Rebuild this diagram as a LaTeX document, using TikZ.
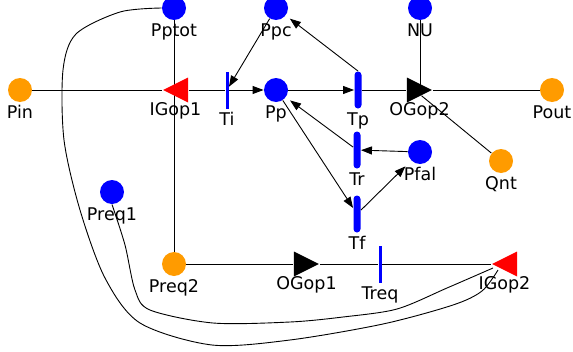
\documentclass[tikz,border=0pt]{standalone}
\usepackage{fontspec}
\setmainfont{DejaVu Sans}
\usetikzlibrary{arrows.meta,shapes.geometric,backgrounds}
\definecolor{placeorange}{RGB}{255,155,0}

\begin{document}
\begin{tikzpicture}%
    [x=1pt, y=-1pt,
    >={Triangle[length=11pt,width=8pt]},
    line width=0.9pt,
    every label/.style={inner sep=0pt, text height=13pt, text depth=4pt,
      font=\fontsize{17.5}{20}\selectfont},
    label distance=3pt,
    place/.style={circle, minimum size=24pt, inner sep=0pt},
    blueplace/.style={place, fill=blue},
    orangeplace/.style={place, fill=placeorange},
    thinbar/.style={rectangle, fill=blue, minimum width=3pt, minimum height=37pt, inner sep=0pt},
    thickbar/.style={rectangle, rounded corners=3.5pt, fill=blue, minimum width=7pt, minimum height=37pt, inner sep=0pt},
    gate/.style={isosceles triangle, isosceles triangle stretches, minimum width=25pt, minimum height=25pt, inner sep=0pt, anchor=apex},
    ingate/.style={gate, fill=red, shape border rotate=180},
    outgate/.style={gate, fill=black}
    ]
    \useasboundingbox (0,0) rectangle (573,351);

    % places
    \node[orangeplace, label=below:Pin]   (Pin)   at (20,90)   {};
    \node[orangeplace, label=below:Pout]  (Pout)  at (552,90)  {};
    \node[orangeplace, label=below:Qnt]   (Qnt)   at (501,161) {};
    \node[orangeplace, label=below:Preq2] (Preq2) at (174,264) {};
    \node[blueplace, label=below:Pptot]   (Pptot) at (174,8)   {};
    \node[blueplace, label=below:Ppc]     (Ppc)   at (276,8)   {};
    \node[blueplace, label=below:NU]      (NU)    at (420,8)   {};
    \node[blueplace, label=below:Pp]      (Pp)    at (276,90)  {};
    \node[blueplace, label=below:Pfal]    (Pfal)  at (420,152) {};
    \node[blueplace, label=below:Preq1]   (Preq1) at (112,192) {};

    % transitions
    \node[thinbar, label=below:Ti]    (Ti)   at (227,90)  {};
    \node[thinbar, label=below:Treq]  (Treq) at (380,264) {};
    \node[thickbar, label=below:Tp]   (Tp)   at (358,90)  {};
    \node[thickbar, label=below:Tr]   (Tr)   at (357,150) {};
    \node[thickbar, label=below:Tf]   (Tf)   at (357,214) {};

    % gates (placed by their apex)
    \node[ingate, label={[xshift=-5pt]below:IGop1}]  (IGop1) at (162,90)  {};
    \node[ingate, label={[xshift=-5pt]below:IGop2}]  (IGop2) at (491,264) {};
    \node[outgate, label={[xshift=5pt]below:OGop2}]  (OGop2) at (433,90)  {};
    \node[outgate, label={[xshift=5pt]below:OGop1}]  (OGop1) at (320,264) {};

    \begin{scope}[on background layer]
    \path[line width=0.9pt]
    % FROM      TO
    (Pin)   edge (IGop1)
    (IGop1) edge (Ti)
    (Tp)    edge (OGop2)
    (OGop2) edge (Pout)
    (Pptot) edge (Preq2)
    (NU)    edge (NU |- OGop2)
    (OGop2) edge (Qnt)
    (Preq2) edge (OGop1)
    (OGop1) edge (Treq)
    (Treq)  edge (IGop2)
    ;
    \end{scope}

    \path[->]
    % FROM       SHORTEN               TO
    (Ti)       edge                    (Pp)
    (Pp)       edge                    (Tp)
    (Ppc)      edge                    (Ti)
    (Tp.north) edge[shorten >=5pt]     (Ppc)
    (Pfal)     edge                    (Tr)
    (Tr)       edge[shorten >=5pt]     (Pp)
    (Pp)       edge                    (Tf)
    (Tf)       edge[shorten >=8pt]     (Pfal)
    ;

    % long curves into IGop2
    \draw plot[smooth, tension=0.5] coordinates {(Pptot.west) (120,12) (76,34)
      (63,70) (64,140) (80,210) (105,278) (140,323) (212,345) (290,340)
      (383,324) (453,305) (482,291) (498,270)};
    \draw plot[smooth, tension=0.5] coordinates {(Preq1.south) (125,245)
      (135,290) (150,310) (213,323) (290,322) (343,317) (397,309) (447,288)
      (493,268)};
\end{tikzpicture}
\end{document}
